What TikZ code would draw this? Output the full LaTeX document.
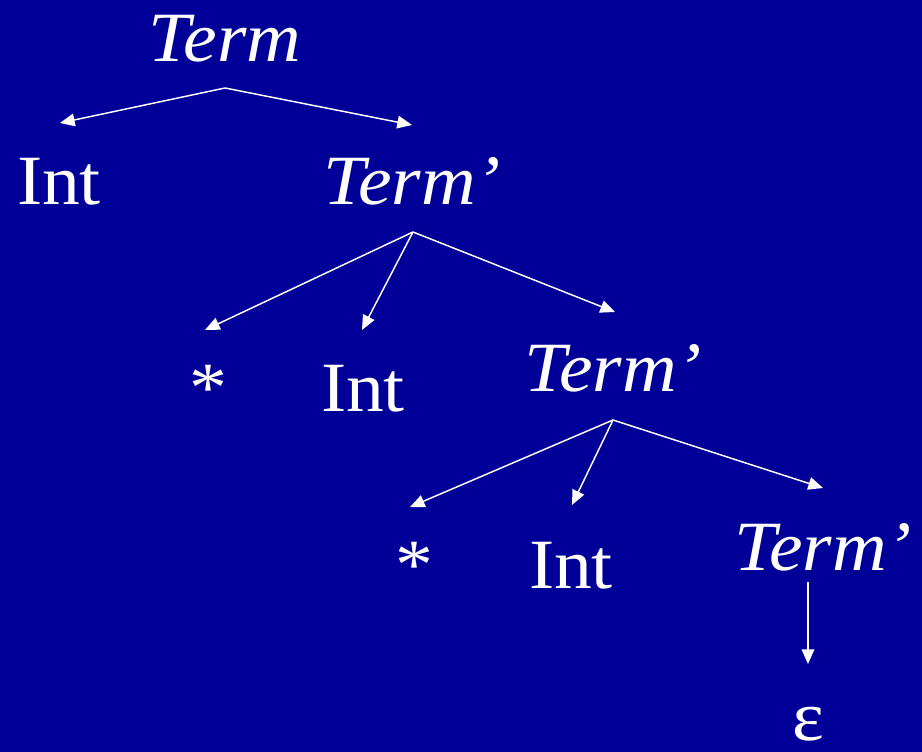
\documentclass[tikz,border=0pt]{standalone}
\usepackage{fontspec}
\usepackage{graphicx}
\setmainfont{Liberation Serif}
\usetikzlibrary{arrows.meta,calc}
\definecolor{bgblue}{RGB}{0,0,153}
\newcommand{\wide}[1]{\scalebox{1.07}[1]{#1}}
\begin{document}
\begin{tikzpicture}[x=0.75pt,y=-0.75pt,
  lbl/.style={anchor=base,text=white,inner sep=0pt,font=\fontsize{53}{60}\selectfont},
  nt/.style={lbl,font=\fontsize{53}{60}\selectfont\itshape},
  arr/.style={draw=white,line width=1.1pt,-{Triangle[length=11pt,width=9.5pt]}}]
\fill[bgblue] (0,0) rectangle (922,752);
\useasboundingbox (0,0) rectangle (922,752);
% nodes
\node[nt]  (t0)  at (225,62)  {\wide{Term}};
\node[lbl] (i1)  at (59,205)  {\wide{Int}};
\node[nt]  (t1)  at (412,205) {\wide{Term’}};
\node[lbl] (s2)  at (208,412) {\wide{*}};
\node[lbl] (i2)  at (363,412) {\wide{Int}};
\node[nt]  (t2)  at (613,392) {\wide{Term’}};
\node[lbl] (s3)  at (414,588) {\wide{*}};
\node[lbl] (i3)  at (571,588) {\wide{Int}};
\node[nt]  (t3)  at (823,570) {\wide{Term’}};
\node[lbl] (e4)  at (808,740) {\wide{ε}};
% connectors
\draw[arr] ($(t0.base)+(0,26)$) -- ($(i1.base)+(1,-82)$);
\draw[arr] ($(t0.base)+(0,26)$) -- ($(t1.base)+(0,-80)$);
\draw[arr] ($(t1.base)+(1,27)$) -- ($(s2.base)+(-3,-82)$);
\draw[arr] ($(t1.base)+(1,27)$) -- ($(i2.base)+(-1,-82)$);
\draw[arr] ($(t1.base)+(1,27)$) -- ($(t2.base)+(2,-80)$);
\draw[arr] ($(t2.base)+(0,28)$) -- ($(s3.base)+(-4,-81)$);
\draw[arr] ($(t2.base)+(0,28)$) -- ($(i3.base)+(1,-83)$);
\draw[arr] ($(t2.base)+(0,28)$) -- ($(t3.base)+(0,-82)$);
\draw[arr] ($(e4.base)+(0,-158)$) -- ($(e4.base)+(0,-76)$);
\end{tikzpicture}
\end{document}
